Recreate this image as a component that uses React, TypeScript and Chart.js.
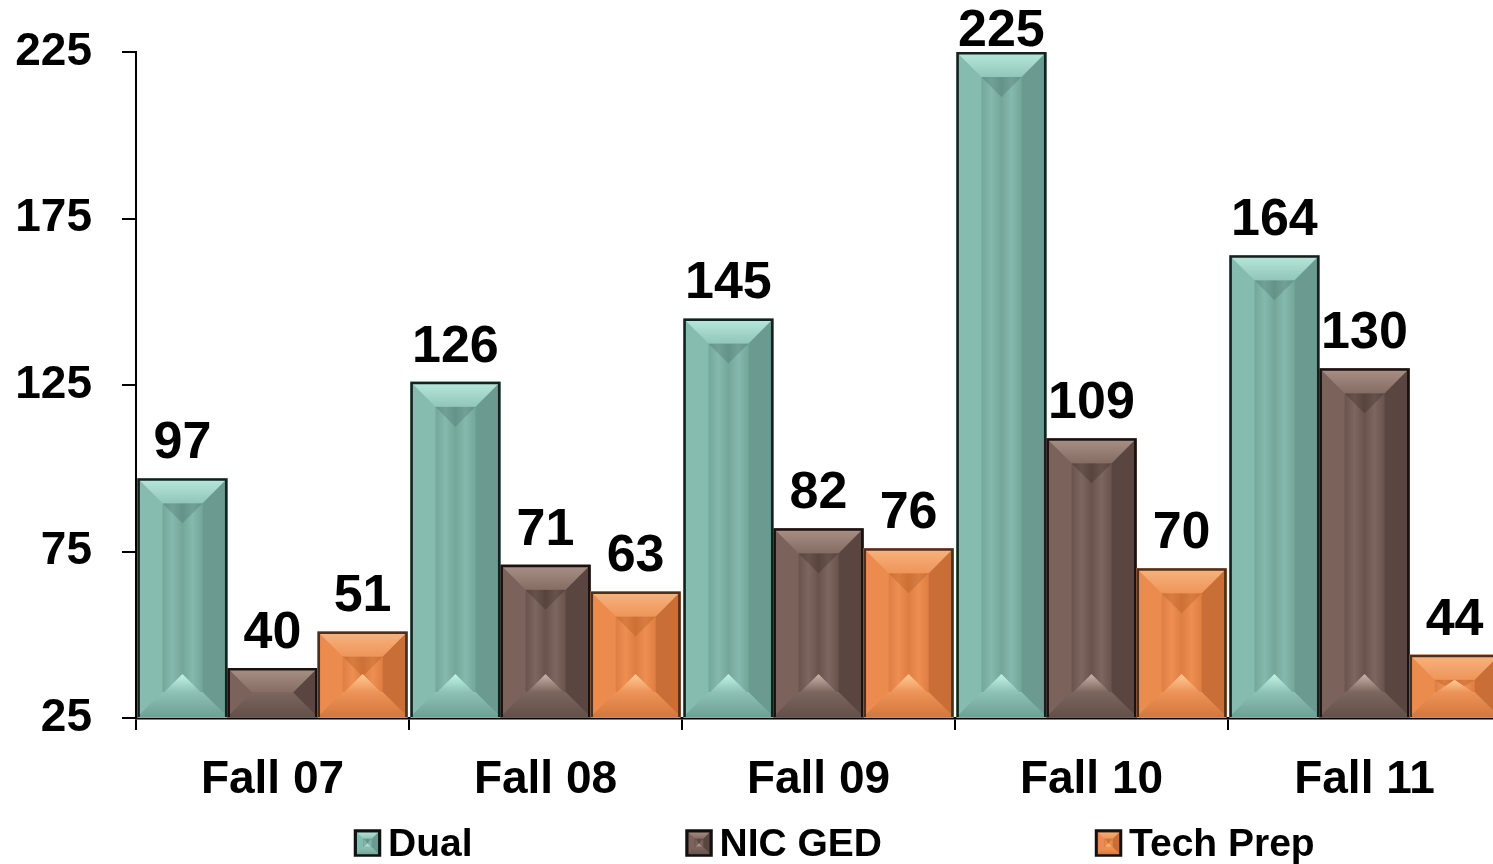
import React, { useEffect, useRef } from 'react';
import { Chart, registerables } from 'chart.js';

Chart.register(...registerables);

const categories = ['Fall 07', 'Fall 08', 'Fall 09', 'Fall 10', 'Fall 11'];
const dual = [97, 126, 145, 225, 164];
const nicGed = [40, 71, 82, 109, 130];
const techPrep = [51, 63, 76, 70, 44];
const seriesNames = ['Dual', 'NIC GED', 'Tech Prep'];
const yMin = 25;
const yMax = 225;
const yStep = 50;

const FONT = '"Liberation Sans", Arial, Helvetica, sans-serif';

type Pal = {
  main: string; top1: string; top2: string; left: string; right: string;
  bottom: string; bottom2: string; innerA: string; innerB: string;
  shadow: string; hi: string; border: string;
};

const palettes: Pal[] = [
  { main: '#7fb2a7', top1: '#b8e8dc', top2: '#92c6ba', left: '#86bbaf', right: '#6a9a90', bottom: '#6f9f95', bottom2: '#8ec2b6', innerA: '#86b9ad', innerB: '#74a69a', shadow: 'rgba(50,90,82,0.25)', hi: '#c4f4e8', border: '#16211e' },
  { main: '#735b52', top1: '#aa9188', top2: '#866d64', left: '#7b635b', right: '#5a4540', bottom: '#62504a', bottom2: '#7c665e', innerA: '#7c665e', innerB: '#69534c', shadow: 'rgba(40,25,20,0.25)', hi: '#cbb3a9', border: '#1a1210' },
  { main: '#e8874a', top1: '#f8b47e', top2: '#ee955a', left: '#ec8b4e', right: '#c86e36', bottom: '#d4773c', bottom2: '#ee9458', innerA: '#ee8f52', innerB: '#de7e42', shadow: 'rgba(150,70,20,0.25)', hi: '#ffcc96', border: '#4a3020' },
];

function drawBevelBox(ctx: CanvasRenderingContext2D, l: number, t: number, r: number, b: number, p: Pal, bevelMax: number, lw: number) {
  const w = r - l;
  const h = b - t;
  if (w <= 0 || h <= 0) return;
  const bv = Math.min(bevelMax, h / 2, w / 2);
  const cx = (l + r) / 2;
  ctx.save();
  ctx.fillStyle = p.main;
  ctx.fillRect(l, t, w, h);
  const il = l + bv, ir = r - bv, it = t + bv, ib = b - bv;
  const iw = ir - il, ih = ib - it;
  if (iw > 0 && ih > 0) {
    const g = ctx.createLinearGradient(il, 0, ir, 0);
    g.addColorStop(0, p.innerB);
    g.addColorStop(0.25, p.innerA);
    g.addColorStop(0.5, p.innerB);
    g.addColorStop(0.75, p.innerA);
    g.addColorStop(1, p.innerB);
    ctx.fillStyle = g;
    ctx.fillRect(il, it, iw, ih);
    const sh = Math.min(iw * 0.5, ih);
    ctx.fillStyle = p.shadow;
    ctx.beginPath();
    ctx.moveTo(il, it);
    ctx.lineTo(ir, it);
    ctx.lineTo(cx, it + sh);
    ctx.closePath();
    ctx.fill();
    const th = Math.min(iw * 0.45, ih);
    const hw = iw * 0.45;
    const hg = ctx.createLinearGradient(0, ib - th, 0, ib);
    hg.addColorStop(0, p.hi);
    hg.addColorStop(1, p.bottom2);
    ctx.fillStyle = hg;
    ctx.beginPath();
    ctx.moveTo(cx - hw, ib);
    ctx.lineTo(cx + hw, ib);
    ctx.lineTo(cx, ib - th);
    ctx.closePath();
    ctx.fill();
  }
  ctx.fillStyle = p.left;
  ctx.beginPath();
  ctx.moveTo(l, t); ctx.lineTo(il, it); ctx.lineTo(il, ib); ctx.lineTo(l, b); ctx.closePath();
  ctx.fill();
  ctx.fillStyle = p.right;
  ctx.beginPath();
  ctx.moveTo(r, t); ctx.lineTo(ir, it); ctx.lineTo(ir, ib); ctx.lineTo(r, b); ctx.closePath();
  ctx.fill();
  const bg = ctx.createLinearGradient(0, ib, 0, b);
  bg.addColorStop(0, p.bottom2);
  bg.addColorStop(1, p.bottom);
  ctx.fillStyle = bg;
  ctx.beginPath();
  ctx.moveTo(l, b); ctx.lineTo(il, ib); ctx.lineTo(ir, ib); ctx.lineTo(r, b); ctx.closePath();
  ctx.fill();
  const tg = ctx.createLinearGradient(0, t, 0, it);
  tg.addColorStop(0, p.top1);
  tg.addColorStop(1, p.top2);
  ctx.fillStyle = tg;
  ctx.beginPath();
  ctx.moveTo(l, t); ctx.lineTo(r, t); ctx.lineTo(ir, it); ctx.lineTo(il, it); ctx.closePath();
  ctx.fill();
  ctx.strokeStyle = p.border;
  ctx.lineWidth = lw;
  ctx.beginPath();
  ctx.moveTo(l + lw / 2, b);
  ctx.lineTo(l + lw / 2, t + lw / 2);
  ctx.lineTo(r - lw / 2, t + lw / 2);
  ctx.lineTo(r - lw / 2, b);
  ctx.stroke();
  ctx.restore();
}

const bevelPlugin = {
  id: 'bevelBars',
  afterDatasetsDraw(chart: any) {
    const ctx = chart.ctx as CanvasRenderingContext2D;
    const area = chart.chartArea;
    chart.data.datasets.forEach((ds: any, di: number) => {
      const meta = chart.getDatasetMeta(di);
      meta.data.forEach((el: any) => {
        const { x, y, base, width } = el.getProps(['x', 'y', 'base', 'width'], true);
        const b = Math.min(base, area.bottom - 1);
        drawBevelBox(ctx, x - width / 2, y, x + width / 2, b, palettes[di], 25, 2.5);
      });
    });
    ctx.save();
    ctx.fillStyle = '#000';
    ctx.font = `bold 52px ${FONT}`;
    ctx.textAlign = 'center';
    ctx.textBaseline = 'alphabetic';
    chart.data.datasets.forEach((ds: any, di: number) => {
      const meta = chart.getDatasetMeta(di);
      meta.data.forEach((el: any, i: number) => {
        const { x, y } = el.getProps(['x', 'y'], true);
        const by = Math.max(y - 20, 46);
        ctx.fillText(String(ds.data[i]), x, by);
      });
    });
    ctx.restore();
  },
  afterDraw(chart: any) {
    const ctx = chart.ctx as CanvasRenderingContext2D;
    const area = chart.chartArea;
    ctx.save();
    ctx.font = `bold 39px ${FONT}`;
    ctx.textBaseline = 'middle';
    ctx.textAlign = 'left';
    const cy = 843;
    const box = 25;
    const gapBoxText = 8;
    const gapItems = 214;
    let x = area.left + 219;
    seriesNames.forEach((name, i) => {
      drawBevelBox(ctx, x, cy - box / 2, x + box, cy + box / 2, palettes[i], 8, 2);
      ctx.strokeStyle = '#111';
      ctx.lineWidth = 2.5;
      ctx.strokeRect(x, cy - box / 2, box, box);
      ctx.fillStyle = '#000';
      ctx.fillText(name, x + box + gapBoxText, cy + 2);
      x += box + gapBoxText + ctx.measureText(name).width + gapItems;
    });
    ctx.restore();
  },
};

export default function App() {
  const ref = useRef<HTMLCanvasElement | null>(null);
  useEffect(() => {
    if (!ref.current) return;
    const chart = new Chart(ref.current, {
      type: 'bar',
      data: {
        labels: categories,
        datasets: [
          { label: seriesNames[0], data: dual, backgroundColor: palettes[0].main },
          { label: seriesNames[1], data: nicGed, backgroundColor: palettes[1].main },
          { label: seriesNames[2], data: techPrep, backgroundColor: palettes[2].main },
        ],
      },
      options: {
        responsive: false,
        animation: false,
        devicePixelRatio: 1,
        layout: { padding: { top: 52, right: 1, left: 0, bottom: 0 } },
        datasets: { bar: { categoryPercentage: 0.99, barPercentage: 1.0, borderWidth: 0 } },
        plugins: { legend: { display: false }, tooltip: { enabled: false } },
        scales: {
          x: {
            type: 'category',
            offset: true,
            grid: { offset: true, drawOnChartArea: false, drawTicks: true, tickLength: 12, color: '#000', lineWidth: 2 },
            border: { display: true, color: '#000', width: 2.5 },
            ticks: { color: '#000', font: { family: FONT, size: 46, weight: 'bold' }, padding: 23, maxRotation: 0, autoSkip: false },
            afterFit: (s: any) => { s.height = 146; s.paddingLeft = 0; s.paddingRight = 0; },
          },
          y: {
            min: yMin,
            max: yMax,
            grid: { drawOnChartArea: false, drawTicks: true, tickLength: 14, color: '#000', lineWidth: 2 },
            border: { display: true, color: '#000', width: 2 },
            ticks: { stepSize: yStep, color: '#000', font: { family: FONT, size: 46, weight: 'bold' }, padding: 30 },
            afterFit: (s: any) => { s.width = 136; s.paddingTop = 0; s.paddingBottom = 0; },
          },
        },
      },
      plugins: [bevelPlugin],
    });
    return () => chart.destroy();
  }, []);
  return (
    <div style={{ position: 'fixed', left: 0, top: 0, width: 1493, height: 864, overflow: 'hidden', background: '#fff' }}>
      <canvas ref={ref} width={1502} height={864} style={{ width: 1502, height: 864, display: 'block' }} />
    </div>
  );
}
